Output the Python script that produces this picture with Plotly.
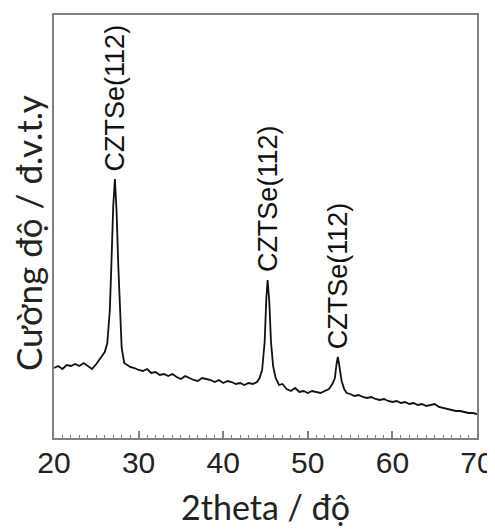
import plotly.graph_objects as go

# 2theta (degrees)
two_theta = [
    20.0, 20.5, 21.0, 21.5, 22.0, 22.5, 23.0, 23.5, 24.0, 24.5, 25.0, 25.5, 26.0, 26.3,
    26.6, 26.8, 27.0, 27.2, 27.4, 27.6, 27.8, 28.0, 28.3, 28.7, 29.0, 29.5, 30.0, 30.5,
    31.0, 31.5, 32.0, 32.5, 33.0, 33.5, 34.0, 34.5, 35.0, 35.5, 36.0, 36.5, 37.0, 37.5,
    38.0, 38.5, 39.0, 39.5, 40.0, 40.5, 41.0, 41.5, 42.0, 42.5, 43.0, 43.5, 44.0, 44.3,
    44.6, 44.9, 45.1, 45.25, 45.45, 45.65, 45.9, 46.2, 46.6, 47.0, 47.5, 48.0, 48.5, 49.0,
    49.5, 50.0, 50.5, 51.0, 51.5, 52.0, 52.5, 52.9, 53.2, 53.4, 53.55, 53.75, 54.0, 54.3,
    54.6, 55.0, 55.5, 56.0, 56.5, 57.0, 57.5, 58.0, 58.5, 59.0, 59.5, 60.0, 60.5, 61.0,
    61.5, 62.0, 62.5, 63.0, 63.5, 64.0, 64.5, 65.0, 65.5, 66.0, 66.5, 67.0, 67.5, 68.0,
    68.5, 69.0, 69.5, 70.0,
]

# intensity (arbitrary units)
intensity = [
    70, 72, 69, 73, 72, 74, 72, 75, 72, 69, 74, 80, 86, 95,
    128, 178, 232, 259, 226, 172, 122, 90, 75, 73, 71, 70, 68, 67,
    69, 65, 66, 63, 64, 62, 64, 61, 59, 62, 60, 58, 57, 60,
    59, 58, 56, 58, 55, 57, 56, 54, 55, 53, 55, 54, 56, 60,
    68, 96, 140, 158, 136, 96, 72, 60, 53, 54, 49, 47, 50, 46,
    47, 45, 47, 46, 45, 47, 49, 54, 60, 74, 81, 71, 57, 49,
    45, 44, 42, 43, 41, 40, 41, 39, 38, 39, 37, 36, 37, 35,
    36, 34, 35, 33, 34, 32, 33, 34, 31, 30, 29, 28, 27, 27,
    26, 25, 25, 24,
]

peak_positions = [27.2, 45.25, 53.55]
peak_heights = [259, 158, 81]
peak_labels = ["CZTSe(112)", "CZTSe(112)", "CZTSe(112)"]

x_tick_values = [20, 30, 40, 50, 60, 70]
x_title = "2theta / độ"
y_title = "Cường độ / đ.v.t.y"

fig = go.Figure()
fig.add_trace(go.Scatter(
    x=two_theta, y=intensity, mode="lines",
    line=dict(color="#111111", width=1.8),
    showlegend=False,
))

for px, ph, lab in zip(peak_positions, peak_heights, peak_labels):
    fig.add_annotation(
        x=px, y=ph + 6, text=lab, textangle=-90, showarrow=False,
        xanchor="center", yanchor="bottom",
        font=dict(family="Liberation Sans, Arial", size=27, color="#111111"),
    )

fig.add_annotation(
    text=x_title, xref="paper", yref="paper", x=0.5, y=-0.215,
    xanchor="center", yanchor="bottom", showarrow=False,
    font=dict(family="Lato, Noto Sans", size=34, color="#222222"),
)
fig.add_annotation(
    text=y_title, xref="paper", yref="paper", x=-0.061, y=0.485,
    xanchor="center", yanchor="middle", textangle=-90, showarrow=False,
    font=dict(family="Lato, Noto Sans", size=35, color="#222222"),
)

axis_color = "#808080"
fig.update_layout(
    width=487, height=522,
    margin=dict(l=46, r=18, t=7, b=92, autoexpand=False),
    plot_bgcolor="white", paper_bgcolor="white",
    font=dict(family="Liberation Sans, Arial", color="#222222"),
    xaxis=dict(
        range=[20, 70], tickvals=x_tick_values,
        ticks="inside", ticklen=7, tickwidth=1.5, tickcolor=axis_color,
        minor=dict(dtick=1, ticks="inside", ticklen=3, tickwidth=1, tickcolor=axis_color),
        showline=True, linecolor=axis_color, linewidth=2, mirror=True,
        showgrid=False, zeroline=False, automargin=False,
        tickfont=dict(family="Liberation Sans, Arial", size=30, color="#222222"),
        ticklabelstandoff=-3,
    ),
    yaxis=dict(
        range=[0, 423], showticklabels=False, ticks="",
        showline=True, linecolor=axis_color, linewidth=2, mirror=True,
        showgrid=False, zeroline=False, automargin=False,
    ),
)

fig.write_html("out.html")
